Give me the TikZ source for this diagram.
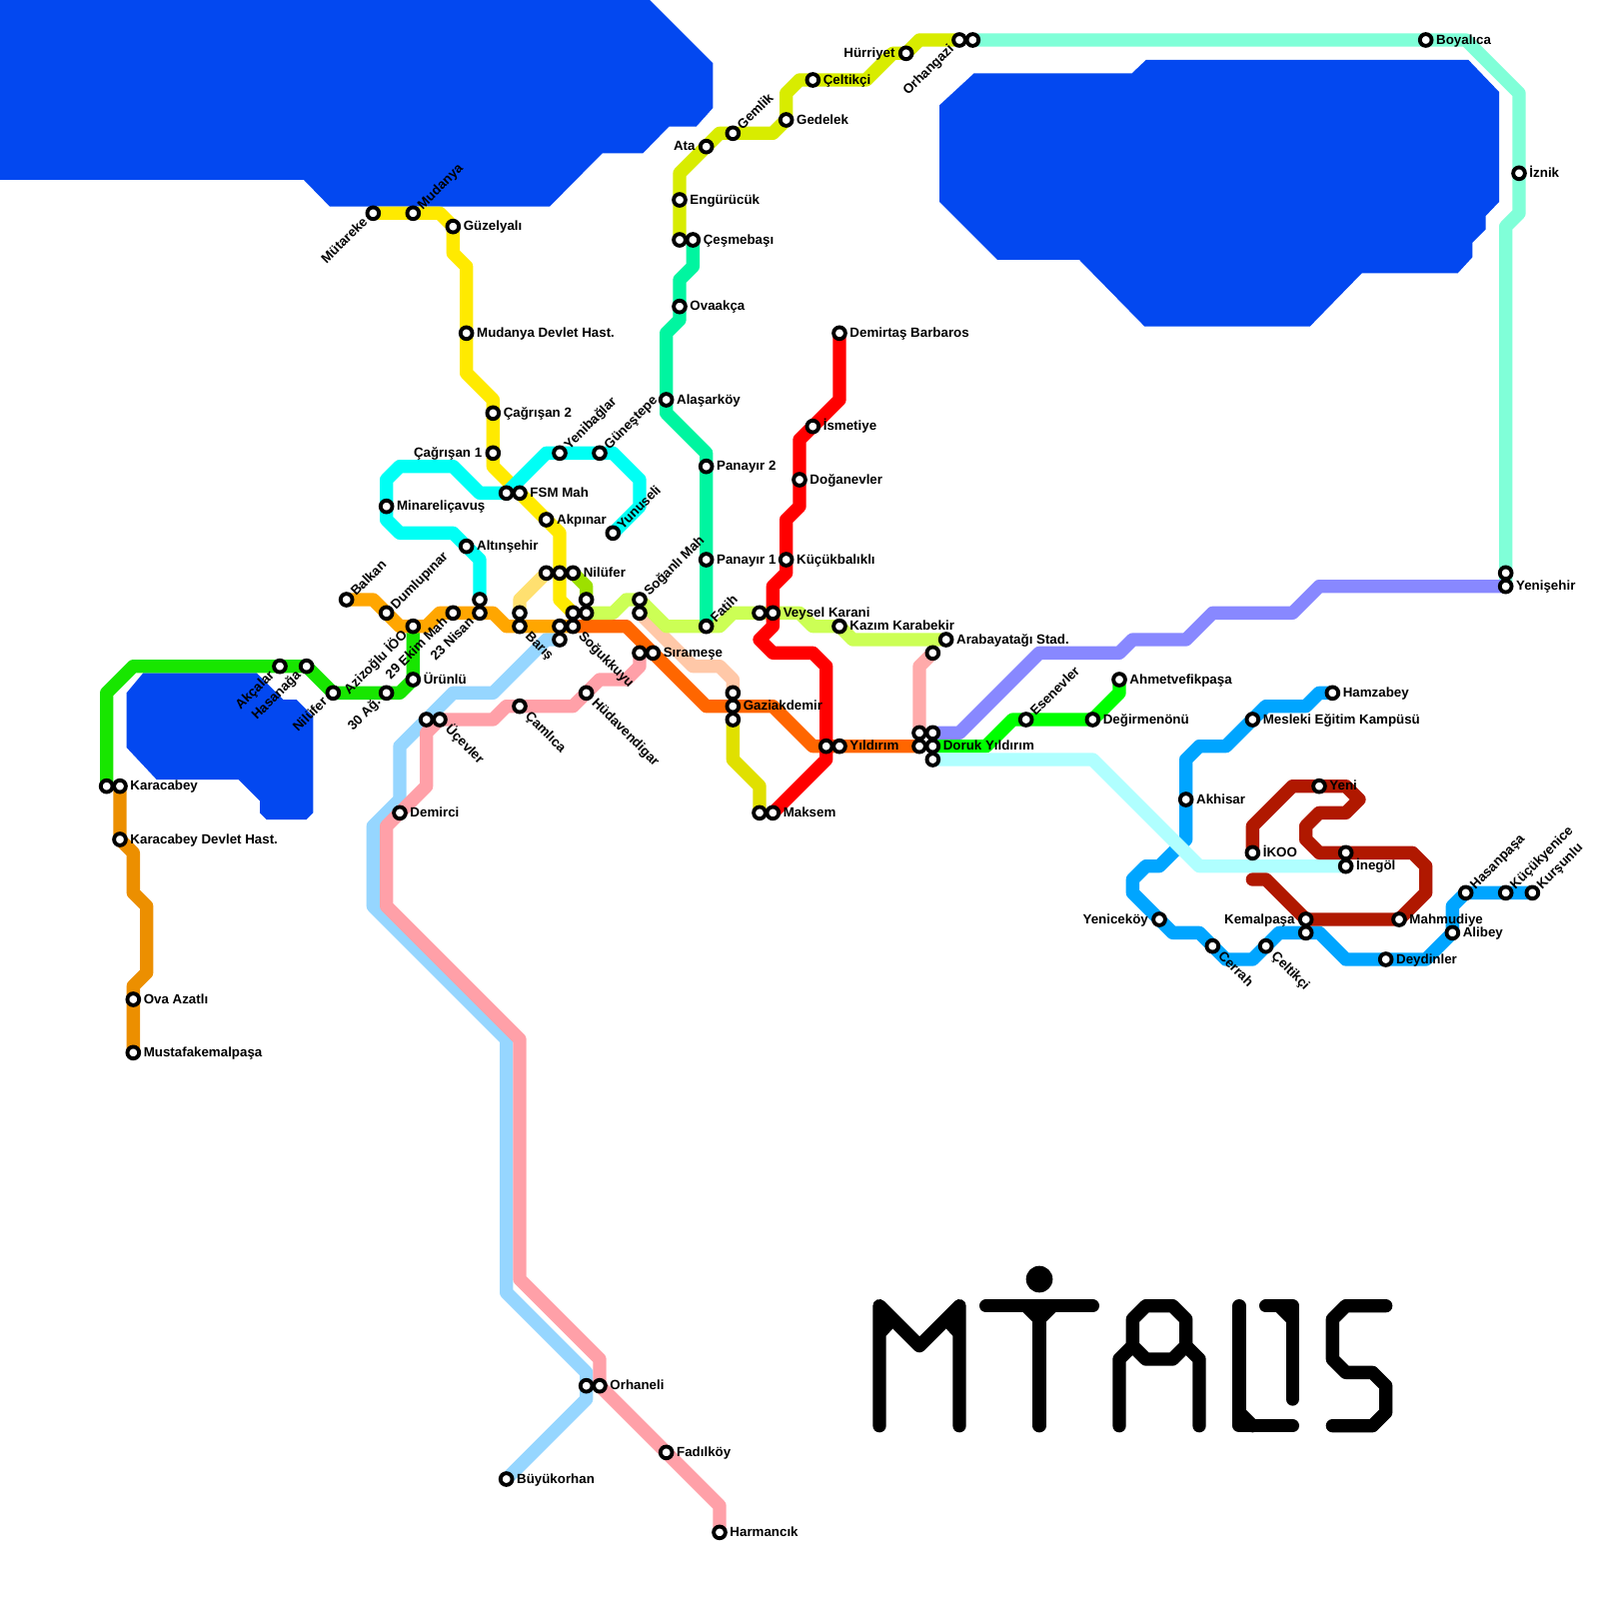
\documentclass[tikz,border=0pt]{standalone}
\usepackage{fontspec}
\setmainfont{Liberation Sans}
\usetikzlibrary{calc}
\pgfdeclarelayer{bg}
\pgfsetlayers{bg,main}
\definecolor{water}{RGB}{3,72,240}
\definecolor{cGreenA}{RGB}{24,230,0}
\definecolor{cOrange}{RGB}{255,166,0}
\definecolor{cOrangeB}{RGB}{236,143,0}
\definecolor{cDarkOr}{RGB}{255,102,0}
\definecolor{cPeach}{RGB}{255,200,168}
\definecolor{cPink}{RGB}{255,160,168}
\definecolor{cPinkB}{RGB}{255,170,170}
\definecolor{cSky}{RGB}{150,214,255}
\definecolor{cLime}{RGB}{204,255,85}
\definecolor{cOlive}{RGB}{157,224,0}
\definecolor{cSand}{RGB}{255,224,112}
\definecolor{cYellow}{RGB}{255,234,0}
\definecolor{cCyan}{RGB}{0,255,245}
\definecolor{cSea}{RGB}{0,245,160}
\definecolor{cChart}{RGB}{216,236,0}
\definecolor{cAqua}{RGB}{128,255,216}
\definecolor{cPeri}{RGB}{136,136,255}
\definecolor{cNeon}{RGB}{0,255,0}
\definecolor{cPale}{RGB}{176,255,255}
\definecolor{cBlue}{RGB}{0,165,255}
\definecolor{cDarkRed}{RGB}{176,24,0}
\definecolor{cDkYel}{RGB}{224,224,0}
\tikzset{
 stop/.style={circle,draw=black,fill=white,line width=.58mm,minimum size=1.76mm,inner sep=0pt},
 ln/.style={line width=2mm,line cap=round,line join=round},
 lab/.style={font=\fontsize{5.69pt}{6pt}\selectfont\bfseries,inner sep=0pt,text=black},
 logo/.style={line width=2mm,line cap=round,line join=round,draw=black},
}
\newcommand{\stn}[3]{\node[stop] (#1) at (#2,#3) {};}
\newcommand{\lE}[2]{\node[lab,anchor=base west] (L#1) at ($(#1)+(.75,.32)$) {#2};}
\newcommand{\lW}[2]{\node[lab,anchor=base east] (L#1) at ($(#1)+(-.8,.32)$) {#2};}
\newcommand{\lNE}[2]{\node[lab,anchor=base west,rotate=45] (L#1) at ($(#1)+(.707,-.204)$) {#2};}
\newcommand{\lSW}[2]{\node[lab,anchor=base east,rotate=45] (L#1) at ($(#1)+(-.354,.707)$) {#2};}
\newcommand{\lSE}[2]{\node[lab,anchor=base west,rotate=-45] (L#1) at ($(#1)+(.354,.787)$) {#2};}
\begin{document}
\begin{tikzpicture}[x=2mm,y=-2mm]
\useasboundingbox (0,0) rectangle (120,120);
% stations
\stn{karaA}{8}{59}\stn{karaB}{9}{59}\stn{kdh}{9}{63}\stn{ova}{10}{75}\stn{mkp}{10}{79}
\stn{mut}{28}{16}\stn{mud}{31}{16}\stn{guz}{34}{17}\stn{mdh}{35}{25}\stn{cagB}{37}{31}\stn{cagA}{37}{34}
\stn{fsmA}{38}{37}\stn{fsmB}{39}{37}\stn{akp}{41}{39}
\stn{sandE}{41}{43}\stn{yelE}{42}{43}\stn{nil}{43}{43}
\stn{yelF}{43}{46}\stn{limeA}{44}{46}\stn{olvE}{44}{45}
\stn{min}{29}{38}\stn{alt}{35}{41}\stn{cyE}{36}{45}\stn{yen}{42}{34}\stn{gun}{45}{34}\stn{yun}{46}{40}
\stn{bal}{26}{45}\stn{dum}{29}{46}\stn{eki}{31}{47}\stn{ekm}{34}{46}\stn{nis}{36}{46}
\stn{sandF}{39}{46}\stn{bar}{39}{47}\stn{orE}{42}{47}\stn{sky}{42}{48}\stn{sog}{43}{47}
\stn{akc}{21}{50}\stn{has}{23}{50}\stn{nlf}{25}{52}\stn{ag}{29}{52}\stn{uru}{31}{51}
\stn{ucA}{32}{54}\stn{uce}{33}{54}\stn{cam}{39}{53}\stn{hud}{44}{52}\stn{sirA}{48}{49}\stn{sir}{49}{49}
\stn{dem}{30}{61}\stn{orhA}{44}{104}\stn{orh}{45}{104}\stn{fad}{50}{109}\stn{har}{54}{115}\stn{buy}{38}{111}
\stn{sgn}{48}{45}\stn{peach}{48}{46}\stn{fat}{53}{47}
\stn{vesA}{57}{46}\stn{ves}{58}{46}\stn{kaz}{63}{47}\stn{arb}{71}{48}\stn{arbP}{70}{49}
\stn{gazU}{55}{52}\stn{gaz}{55}{53}\stn{gazD}{55}{54}\stn{makA}{57}{61}\stn{mak}{58}{61}
\stn{yilA}{62}{56}\stn{yil}{63}{56}
\stn{dorA}{69}{55}\stn{dorB}{70}{55}\stn{dorC}{69}{56}\stn{dor}{70}{56}\stn{dorD}{70}{57}
\stn{dmb}{63}{25}\stn{ism}{61}{32}\stn{dog}{60}{36}\stn{kuc}{59}{42}
\stn{ala}{50}{30}\stn{pa}{53}{35}\stn{pb}{53}{42}\stn{ovk}{51}{23}\stn{cesA}{51}{18}\stn{ces}{52}{18}\stn{eng}{51}{15}
\stn{ata}{53}{11}\stn{gem}{55}{10}\stn{ged}{59}{9}\stn{cel}{61}{6}\stn{hur}{68}{4}\stn{orgA}{72}{3}\stn{orgB}{73}{3}
\stn{boy}{107}{3}\stn{izn}{114}{13}\stn{yenA}{113}{43}\stn{yeni}{113}{44}
\stn{ese}{77}{54}\stn{deg}{82}{54}\stn{ahm}{84}{51}
\stn{ham}{100}{52}\stn{mes}{94}{54}\stn{akh}{89}{60}\stn{ynk}{87}{69}\stn{cer}{91}{71}\stn{clt}{95}{71}
\stn{kemB}{98}{70}\stn{kem}{98}{69}\stn{dey}{104}{72}\stn{ali}{109}{70}\stn{mah}{105}{69}
\stn{hsp}{110}{67}\stn{kyn}{113}{67}\stn{kur}{115}{67}
\stn{iko}{94}{64}\stn{yni}{99}{59}\stn{ineA}{101}{64}\stn{ine}{101}{65}
% labels
\lE{karaB}{Karacabey}\lE{kdh}{Karacabey Devlet Hast.}\lE{ova}{Ova Azatlı}\lE{mkp}{Mustafakemalpaşa}
\lE{guz}{Güzelyalı}\lE{mdh}{Mudanya Devlet Hast.}\lE{cagB}{Çağrışan 2}\lE{fsmB}{FSM Mah}\lE{akp}{Akpınar}
\lE{min}{Minareliçavuş}\lE{alt}{Altınşehir}\lE{nil}{Nilüfer}\lE{uru}{Ürünlü}\lE{dem}{Demirci}\lE{sir}{Sırameşe}
\lE{gaz}{Gaziakdemir}\lE{yil}{Yıldırım}\lE{dor}{Doruk Yıldırım}\lE{mak}{Maksem}\lE{ves}{Veysel Karani}
\lE{kaz}{Kazım Karabekir}\lE{arb}{Arabayatağı Stad.}\lE{ala}{Alaşarköy}\lE{pa}{Panayır 2}\lE{pb}{Panayır 1}
\lE{ovk}{Ovaakça}\lE{ces}{Çeşmebaşı}\lE{eng}{Engürücük}\lE{ged}{Gedelek}\lE{cel}{Çeltikçi}
\lE{dmb}{Demirtaş Barbaros}\lE{ism}{İsmetiye}\lE{dog}{Doğanevler}\lE{kuc}{Küçükbalıklı}
\lE{deg}{Değirmenönü}\lE{ahm}{Ahmetvefikpaşa}\lE{ham}{Hamzabey}\lE{mes}{Mesleki Eğitim Kampüsü}\lE{akh}{Akhisar}
\lE{yni}{Yeni}\lE{iko}{İKOO}\lE{ine}{İnegöl}\lE{mah}{Mahmudiye}\lE{ali}{Alibey}\lE{dey}{Deydinler}
\lE{boy}{Boyalıca}\lE{izn}{İznik}\lE{yeni}{Yenişehir}\lE{orh}{Orhaneli}\lE{fad}{Fadılköy}\lE{har}{Harmancık}\lE{buy}{Büyükorhan}
\lW{cagA}{Çağrışan 1}\lW{hur}{Hürriyet}\lW{ata}{Ata}\lW{ynk}{Yeniceköy}\lW{kem}{Kemalpaşa}
\lNE{bal}{Balkan}\lNE{dum}{Dumlupınar}\lNE{mud}{Mudanya}\lNE{yen}{Yenibağlar}\lNE{gun}{Güneştepe}\lNE{yun}{Yunuseli}
\lNE{sgn}{Soğanlı Mah}\lNE{fat}{Fatih}\lNE{gem}{Gemlik}\lNE{ese}{Esenevler}\lNE{hsp}{Hasanpaşa}\lNE{kyn}{Küçükyenice}\lNE{kur}{Kurşunlu}
\lSW{mut}{Mütareke}\lSW{akc}{Akçalar}\lSW{has}{Hasanağa}\lSW{nlf}{Nilüfer}\lSW{eki}{Azizoğlu İÖO}\lSW{ekm}{29 Ekim Mah}
\lSW{nis}{23 Nisan}\lSW{ag}{30 Ağ.}\lSW{orgA}{Orhangazi}
\lSE{bar}{Barış}\lSE{sog}{Soğukkuyu}\lSE{uce}{Üçevler}\lSE{cam}{Çamlıca}\lSE{hud}{Hüdavendigar}\lSE{cer}{Cerrah}\lSE{clt}{Çeltikçi}
\begin{pgfonlayer}{bg}
\fill[white] (0,0) rectangle (120,120);
% water
\fill[water] (0,0) -- (48.75,0) -- (53.5,4.75) -- (53.5,8.1) -- (52.25,9.5) -- (50.2,9.5) -- (48.25,11.5) -- (45.2,11.5) -- (41.25,15.5) -- (24.75,15.5) -- (22.8,13.5) -- (0,13.5) -- cycle;
\fill[water] (73.1,5.5) -- (84.95,5.5) -- (86,4.5) -- (110.2,4.5) -- (112.5,6.9) -- (112.5,15.15) -- (111.5,16.2) -- (111.5,17.2) -- (110.5,18.2) -- (110.5,19.3) -- (109.4,20.5) -- (102.2,20.5) -- (98.3,24.5) -- (85.9,24.5) -- (81,19.5) -- (74.85,19.5) -- (70.5,15.15) -- (70.5,7.9) -- cycle;
\fill[water] (10.75,50.5) -- (19.25,50.5) -- (21.25,52.5) -- (22.25,52.5) -- (23.5,53.75) -- (23.5,61) -- (23,61.5) -- (20,61.5) -- (19.5,61) -- (19.5,60.1) -- (17.9,58.5) -- (11.75,58.5) -- (9.5,56.1) -- (9.5,52) -- cycle;
% lines
\draw[ln,cOrangeB] (karaB.center) -- (kdh.center) -- (10,64) -- (10,67) -- (11,68) -- (11,73) -- (10,74) -- (ova.center) -- (mkp.center);
\draw[ln,cSky] (sky.center) -- (41,48) -- (37,52) -- (34,52) -- (30,56) -- (30,60) -- (28,62) -- (28,68) -- (38,78) -- (38,97) -- (44,103) -- (orhA.center) -- (44,105) -- (buy.center);
\draw[ln,cPink] (sirA.center) -- (48,50) -- (47,51) -- (45,51) -- (hud.center) -- (43,53) -- (38,53) -- (37,54) -- (uce.center) -- (32,55) -- (32,59) -- (dem.center) -- (29,62) -- (29,68) -- (39,78) -- (39,96) -- (45,102) -- (orh.center) -- (fad.center) -- (54,113) -- (har.center);
\draw[ln,cGreenA] (karaA.center) -- (8,52) -- (10,50) -- (has.center) -- (nlf.center) -- (30,52) -- (uru.center) -- (eki.center);
\draw[ln,cSand] (sandE.center) -- (39,45) -- (sandF.center);
\draw[ln,cOlive] (nil.center) -- (44,44) -- (olvE.center);
\draw[ln,cYellow] (mut.center) -- (33,16) -- (guz.center) -- (34,19) -- (35,20) -- (35,28) -- (37,30) -- (cagA.center) -- (37,35) -- (fsmB.center) -- (42,40) -- (42,45) -- (yelF.center);
\draw[ln,cCyan] (cyE.center) -- (36,42) -- (alt.center) -- (34,40) -- (30,40) -- (29,39) -- (29,36) -- (30,35) -- (34,35) -- (36,37) -- (fsmA.center) -- (41,34) -- (46,34) -- (48,36) -- (48,38) -- (yun.center);
\draw[ln,cOrange] (bal.center) -- (28,45) -- (30,47) -- (32,47) -- (33,46) -- (37,46) -- (38,47) -- (sog.center);
\draw[ln,cPeach] (peach.center) -- (52,50) -- (54,50) -- (55,51) -- (gazU.center);
\draw[ln,cDarkOr] (sog.center) -- (47,47) -- (53,53) -- (58,53) -- (61,56) -- (dorC.center);
\draw[ln,cLime] (limeA.center) -- (46,46) -- (47,45) -- (48,45) -- (50,47) -- (54,47) -- (55,46) -- (60,46) -- (61,47) -- (kaz.center) -- (64,48) -- (arb.center);
\draw[ln,cSea] (ces.center) -- (52,20) -- (51,21) -- (51,24) -- (50,25) -- (50,31) -- (53,34) -- (fat.center);
\draw[ln,cChart] (cesA.center) -- (51,13) -- (54,10) -- (58,10) -- (ged.center) -- (59,7) -- (60,6) -- (65,6) -- (67,4) -- (hur.center) -- (69,3) -- (orgA.center);
\draw[ln,cAqua] (orgB.center) -- (110,3) -- (114,7) -- (114,16) -- (113,17) -- (yeni.center);
\draw[ln,cDkYel] (gazD.center) -- (55,57) -- (57,59) -- (makA.center);
\draw[ln,red] (dmb.center) -- (63,30) -- (60,33) -- (60,38) -- (59,39) -- (59,43) -- (58,44) -- (58,47) -- (57,48) -- (58,49) -- (61,49) -- (62,50) -- (62,57) -- (mak.center);
\draw[ln,cPinkB] (arbP.center) -- (69,50) -- (dorA.center);
\draw[ln,cPeri] (yeni.center) -- (99,44) -- (97,46) -- (91,46) -- (89,48) -- (85,48) -- (84,49) -- (78,49) -- (72,55) -- (dorB.center);
\draw[ln,cNeon] (dor.center) -- (74,56) -- (76,54) -- (deg.center) -- (84,52) -- (ahm.center);
\draw[ln,cBlue] (ham.center) -- (99,52) -- (98,53) -- (95,53) -- (92,56) -- (90,56) -- (89,57) -- (89,63) -- (87,65) -- (86,65) -- (85,66) -- (85,67) -- (88,70) -- (90,70) -- (92,72) -- (94,72) -- (96,70) -- (99,70) -- (101,72) -- (107,72) -- (109,70) -- (109,68) -- (110,67) -- (kur.center);
\draw[ln,cPale] (dorD.center) -- (82,57) -- (90,65) -- (ine.center);
\draw[ln,cDarkRed] (iko.center) -- (94,62) -- (97,59) -- (101,59) -- (102,60) -- (101,61) -- (99,61) -- (98,62) -- (98,63) -- (99,64) -- (106,64) -- (107,65) -- (107,67) -- (mah.center) -- (kem.center) -- (95,66) -- (94,66);
% logo
\draw[logo] (66,107) -- (66,98) -- (69,101) -- (72,98) -- (72,107);
\fill[black] (66,98) -- (67,99) -- (67,99.7) -- (66.5,100.25) -- (66,100.25) -- cycle;
\fill[black] (72,98) -- (71,99) -- (71,99.7) -- (71.5,100.25) -- (72,100.25) -- cycle;
\draw[logo] (74,98) -- (82,98);
\draw[logo] (78,98) -- (78,107);
\draw[logo] (77,98) -- (78,99) -- (79,98);
\fill[black] (78,96) circle[radius=2mm];
\draw[logo] (86,98) -- (88,98) -- (89,99) -- (89,101) -- (88,102) -- (86,102) -- (85,101) -- (85,99) -- cycle;
\draw[logo] (84,107) -- (84,102) -- (85,101);
\draw[logo] (90,107) -- (90,102) -- (89,101);
\draw[logo] (93,98) -- (93,107) -- (97,107);
\draw[logo] (93,106) -- (94,107);
\draw[logo] (95,98) -- (97,98) -- (97,105);
\draw[logo] (96,98) -- (97,99);
\draw[logo] (104,98) -- (101,98) -- (100,99) -- (100,102) -- (101,103) -- (103,103) -- (104,104) -- (104,106) -- (103,107) -- (100,107);
\end{pgfonlayer}
\end{tikzpicture}
\end{document}
